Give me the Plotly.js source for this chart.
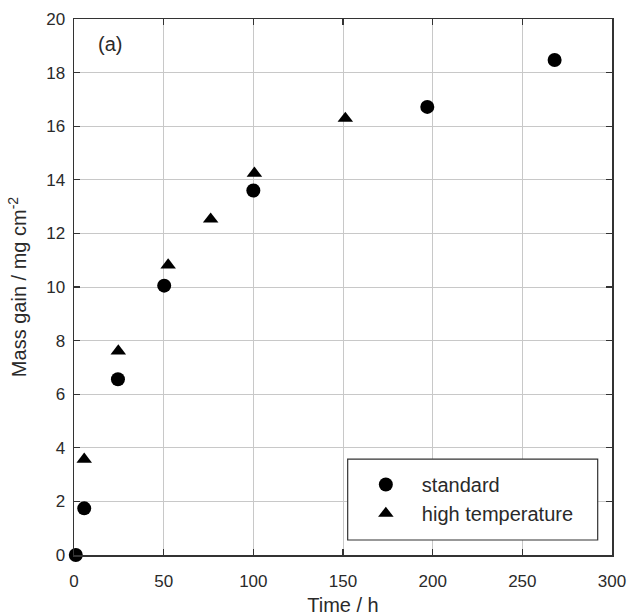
<!DOCTYPE html>
<html>
<head>
<meta charset="utf-8">
<script src="https://cdn.plot.ly/plotly-3.0.1.min.js"></script>
<style>html,body{margin:0;padding:0;background:#fff;}#chart{width:627px;height:616px;}</style>
</head>
<body>
<div id="chart"></div>
<script>
// Time (h) and mass gain (mg cm^-2)
const stdTime = [1, 5.7, 24.5, 50.3, 100, 197, 268];
const stdGain = [0, 1.74, 6.56, 10.05, 13.6, 16.72, 18.47];
const hiTime = [5.7, 24.7, 52.5, 76.2, 100.6, 151.3];
const hiGain = [3.57, 7.61, 10.82, 12.53, 14.24, 16.29];
const xTicks = [0, 50, 100, 150, 200, 250, 300];
const yTicks = [0, 2, 4, 6, 8, 10, 12, 14, 16, 18, 20];
const seriesNames = ["standard", "high temperature"];
const panelLabel = "(a)";

const FONT = "Liberation Sans, Arial, Helvetica, sans-serif";
const TXT = "#2a2a2a";

const traces = [
  {x: stdTime, y: stdGain, name: seriesNames[0], type: "scatter", mode: "markers",
   marker: {symbol: "circle", size: 14, color: "#000"}, cliponaxis: false},
  {x: hiTime, y: hiGain, name: seriesNames[1], type: "scatter", mode: "markers",
   marker: {symbol: "triangle-up", size: 13.5, color: "#000"}, cliponaxis: false}
];

const axisCommon = {
  showline: true, linecolor: "#333", linewidth: 1.5, mirror: "ticks",
  ticks: "inside", ticklen: 6, tickwidth: 1.2, tickcolor: "#333",
  showgrid: true, gridcolor: "#c8c8c8", gridwidth: 1, zeroline: false,
  tickfont: {family: FONT, size: 17, color: TXT}
};

const layout = {
  width: 627, height: 616,
  margin: {l: 74, r: 15, t: 19, b: 61},
  paper_bgcolor: "#fff", plot_bgcolor: "#fff",
  font: {family: FONT, color: TXT},
  showlegend: true,
  xaxis: Object.assign({}, axisCommon, {
    range: [0, 300], tickvals: xTicks, ticktext: xTicks.map(String),
    ticklabelstandoff: 10,
    title: {text: "Time / h", font: {family: FONT, size: 20, color: TXT}, standoff: 11}
  }),
  yaxis: Object.assign({}, axisCommon, {
    range: [0, 20], tickvals: yTicks, ticktext: yTicks.map(String),
    ticklabelstandoff: 4,
    title: {text: "Mass gain / mg cm<sup>-2</sup>", font: {family: FONT, size: 20, color: TXT}, standoff: 14}
  }),
  legend: {
    x: 0.509, y: 0.168, xanchor: "left", yanchor: "top",
    bgcolor: "rgba(0,0,0,0)", borderwidth: 0,
    font: {family: FONT, size: 20, color: TXT},
    indentation: 2, itemwidth: 62, tracegroupgap: 0
  },
  shapes: [{
    type: "rect", xref: "paper", yref: "paper", layer: "above",
    x0: 0.5087, x1: 0.9734, y0: 0.028, y1: 0.179,
    fillcolor: "#fff", line: {color: "#333", width: 1.2}
  }],
  annotations: [{
    text: panelLabel, xref: "paper", yref: "paper", x: 0.04, y: 0.953,
    xanchor: "left", yanchor: "middle", showarrow: false,
    font: {family: FONT, size: 20, color: TXT}
  }]
};

Plotly.newPlot("chart", traces, layout, {displayModeBar: false, staticPlot: true});
</script>
</body>
</html>
